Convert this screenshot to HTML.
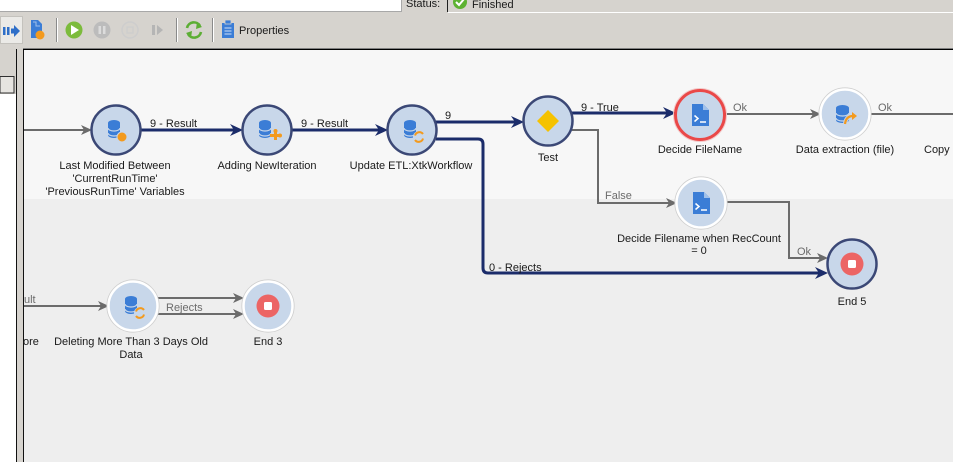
<!DOCTYPE html>
<html><head><meta charset="utf-8"><style>
html,body{margin:0;padding:0;width:953px;height:462px;overflow:hidden;background:#d6d3ce}
svg{display:block}
text{font-family:"Liberation Sans",Arial,sans-serif;font-size:11px;fill:#1a1a1a}
.g{fill:#6b6b6b}
.c{text-anchor:middle}
.nv{stroke:#1b2c6a;stroke-width:3;fill:none}
.gr{stroke:#6b6b6b;stroke-width:2;fill:none}
.ah{fill:#1b2c6a}
.ag{fill:#6b6b6b}
.nd{fill:#c8d7ea;stroke:#3b4876;stroke-width:2.5}
.nw{fill:#c8d7ea;stroke:#ffffff;stroke-width:2.5}
.sh{fill:none;stroke:#cfcfcf;stroke-width:1.2}
.db{fill:#3b7dd6}
.dl{fill:none;stroke:#c8d7ea;stroke-width:1.2}
</style></head><body>
<svg width="953" height="462" viewBox="0 0 953 462" xmlns="http://www.w3.org/2000/svg">
<rect width="953" height="462" fill="#d6d3ce"/>
<!-- top strip -->
<rect x="0" y="0" width="401" height="11" fill="#ffffff"/>
<line x1="0" y1="11.5" x2="402" y2="11.5" stroke="#a8a8a8"/>
<line x1="401.5" y1="0" x2="401.5" y2="12" stroke="#a8a8a8"/>
<text x="406" y="7">Status:</text>
<line x1="447.5" y1="0" x2="447.5" y2="12" stroke="#202020"/>
<line x1="448" y1="12.5" x2="953" y2="12.5" stroke="#ffffff"/>
<circle cx="460" cy="2" r="7" fill="#5db232"/>
<path d="M456 2 l3 3 l5 -6" stroke="#fff" stroke-width="2" fill="none"/>
<text x="472" y="8">Finished</text>

<!-- toolbar -->
<rect x="0.5" y="16.5" width="22" height="27" fill="#ebeae7" stroke="#c4c2bd"/>
<rect x="3" y="27" width="2.5" height="8" fill="#2f6fc8"/>
<rect x="7" y="27" width="2.5" height="8" fill="#2f6fc8"/>
<rect x="11" y="28.5" width="4" height="5" fill="#2f6fc8"/>
<polygon points="14,25 20,31 14,37" fill="#2f6fc8"/>
<path d="M31 20 H38 L42 24 V38 H31 Z" fill="#3b7dd6"/>
<path d="M33 22 H36 V26 H40" fill="none" stroke="#9fc0ea" stroke-width="1"/>
<circle cx="40" cy="35" r="4.5" fill="#f39a1e"/>
<line x1="56.5" y1="18" x2="56.5" y2="42" stroke="#8a8a8a"/>
<line x1="57.5" y1="18" x2="57.5" y2="42" stroke="#ffffff"/>
<circle cx="74" cy="30" r="8.5" fill="#7cbb3c"/>
<polygon points="71,25 71,35 79,30" fill="#ffffff"/>
<circle cx="102" cy="30" r="8.5" fill="#bcbcbc"/>
<rect x="98.5" y="26" width="2.5" height="8" fill="#dcdcdc"/>
<rect x="103" y="26" width="2.5" height="8" fill="#dcdcdc"/>
<circle cx="130" cy="30" r="8" fill="none" stroke="#cdcdcd" stroke-width="1.5"/>
<rect x="127" y="27" width="6" height="6" fill="none" stroke="#cdcdcd" stroke-width="1.2"/>
<rect x="152" y="25" width="3" height="10" fill="#b5b5b5"/>
<polygon points="157,25 157,35 163,30" fill="#b5b5b5"/>
<line x1="176.5" y1="18" x2="176.5" y2="42" stroke="#8a8a8a"/>
<line x1="177.5" y1="18" x2="177.5" y2="42" stroke="#ffffff"/>
<path d="M187 28 A7 7 0 0 1 200 26" fill="none" stroke="#5cae34" stroke-width="2.6"/>
<polygon points="197,22 202,27 196,29" fill="#5cae34"/>
<path d="M201 32 A7 7 0 0 1 188 34" fill="none" stroke="#5cae34" stroke-width="2.6"/>
<polygon points="191,38 186,33 192,31" fill="#5cae34"/>
<line x1="212.5" y1="18" x2="212.5" y2="42" stroke="#8a8a8a"/>
<line x1="213.5" y1="18" x2="213.5" y2="42" stroke="#ffffff"/>
<rect x="222" y="23" width="12" height="15" fill="#3b7dd6"/>
<rect x="225" y="20" width="6" height="4" fill="#3b7dd6" stroke="#d6d3ce" stroke-width="0.8"/>
<line x1="224.5" y1="28" x2="231.5" y2="28" stroke="#cfe0f5"/>
<line x1="224.5" y1="31" x2="231.5" y2="31" stroke="#cfe0f5"/>
<line x1="224.5" y1="34" x2="231.5" y2="34" stroke="#cfe0f5"/>
<text x="239" y="34">Properties</text>

<!-- left panel -->
<rect x="0" y="94" width="16" height="368" fill="#ffffff"/>
<rect x="0" y="76.5" width="14" height="16.5" fill="#e6e4e0" stroke="#303030" stroke-width="1"/>
<line x1="16.5" y1="49" x2="16.5" y2="462" stroke="#111"/>
<line x1="23.5" y1="48" x2="23.5" y2="462" stroke="#111"/>

<!-- canvas -->
<rect x="24" y="50" width="929" height="150" fill="#f7f7f7"/>
<rect x="24" y="199" width="929" height="263" fill="#eeeeee"/>
<line x1="23" y1="48.5" x2="953" y2="48.5" stroke="#808080"/>
<line x1="23" y1="49.5" x2="953" y2="49.5" stroke="#000000"/>

<!-- connectors -->
<path class="gr" d="M24 130 H86"/><polygon class="ag" points="92,130 81,125 84,130 81,135"/>
<path class="nv" d="M140 130 H236"/><polygon class="ah" points="243,130 230,124 234,130 230,136"/>
<path class="nv" d="M291 130 H381"/><polygon class="ah" points="388,130 375,124 379,130 375,136"/>
<path class="nv" d="M436 122 H517"/><polygon class="ah" points="524,122 511,116 515,122 511,128"/>
<path class="nv" d="M436 139 H478 Q483 139 483 144 V268 Q483 273 488 273 H821"/><polygon class="ah" points="828,273 815,267 819,273 815,279"/>
<path class="nv" d="M572 113 H669"/><polygon class="ah" points="676,113 663,107 667,113 663,119"/>
<path class="gr" d="M572 130 H598 V203 H671"/><polygon class="ag" points="677,203 666,198 669,203 666,208"/>
<path class="gr" d="M725 114 H815"/><polygon class="ag" points="821,114 810,109 813,114 810,119"/>
<path class="gr" d="M869 114 H953"/>
<path class="gr" d="M725 202 H789 V258 H822"/><polygon class="ag" points="828,258 817,253 820,258 817,263"/>
<path class="gr" d="M24 306 H102"/><polygon class="ag" points="109,306 98,301 101,306 98,311"/>
<path class="gr" d="M157 298 H237"/><polygon class="ag" points="244,298 233,293 236,298 233,303"/>
<path class="gr" d="M157 314 H237"/><polygon class="ag" points="244,314 233,309 236,314 233,319"/>

<!-- connector labels -->
<text x="150" y="127">9 - Result</text>
<text x="301" y="127">9 - Result</text>
<text x="445" y="119">9</text>
<text x="581" y="111">9 - True</text>
<text class="g" x="733" y="111">Ok</text>
<text class="g" x="878" y="111">Ok</text>
<text class="g" x="605" y="199">False</text>
<text class="g" x="797" y="255">Ok</text>
<text x="489" y="271">0 - Rejects</text>
<text class="g" x="166" y="311">Rejects</text>
<text class="g" x="24" y="303">ult</text>

<!-- N1 -->
<circle class="nd" cx="116" cy="130" r="24.5"/>
<path class="db" d="M108 123 a6 3 0 0 1 12 0 v12 a6 3 0 0 1 -12 0 z"/>
<path class="dl" d="M108 128 a6 3 0 0 0 12 0"/><path class="dl" d="M108 133 a6 3 0 0 0 12 0"/>
<circle cx="122" cy="137" r="5" fill="#f39a1e" stroke="#c8d7ea" stroke-width="1"/>
<!-- N2 -->
<circle class="nd" cx="267" cy="130" r="24.5"/>
<path class="db" d="M259 123 a6 3 0 0 1 12 0 v12 a6 3 0 0 1 -12 0 z"/>
<path class="dl" d="M259 128 a6 3 0 0 0 12 0"/><path class="dl" d="M259 133 a6 3 0 0 0 12 0"/>
<path d="M270 134 h4 v-3 h3 v3 h3 v3 h-3 v3 h-3 v-3 h-4 z" fill="#f39a1e"/>
<circle cx="275.5" cy="131" r="2" fill="#f39a1e"/><circle cx="280" cy="135.5" r="2" fill="#f39a1e"/>
<!-- N3 -->
<circle class="nd" cx="412" cy="130" r="24.5"/>
<path class="db" d="M404 123 a6 3 0 0 1 12 0 v12 a6 3 0 0 1 -12 0 z"/>
<path class="dl" d="M404 128 a6 3 0 0 0 12 0"/><path class="dl" d="M404 133 a6 3 0 0 0 12 0"/>
<circle cx="419" cy="137" r="6" fill="#c8d7ea"/>
<path d="M415 135.5 A4.5 4.5 0 0 1 423 134" fill="none" stroke="#f39a1e" stroke-width="2"/>
<path d="M423 138.5 A4.5 4.5 0 0 1 415 140" fill="none" stroke="#f39a1e" stroke-width="2"/>
<!-- N4 Test -->
<circle class="nd" cx="548" cy="121" r="24.5"/>
<polygon points="548,110 559,121 548,132 537,121" fill="#f5c200"/>
<!-- N5 Decide FileName -->
<circle cx="700" cy="115" r="26.5" fill="none" stroke="#f2c9c9" stroke-width="1"/>
<circle cx="700" cy="115" r="24.5" fill="#c8d7ea" stroke="#ea4848" stroke-width="3"/>
<path d="M692 104 H703 L709 110 V126 H692 Z" fill="#3b7dd6"/>
<polygon points="703,104 709,110 703,110" fill="#9fc0ea"/>
<path d="M694.5 115.5 l3.5 3 l-3.5 3" fill="none" stroke="#fff" stroke-width="1.5"/>
<line x1="700" y1="122" x2="706" y2="122" stroke="#fff" stroke-width="1.5"/>
<!-- N6 Data extraction -->
<circle class="sh" cx="845" cy="114" r="26"/>
<circle class="nw" cx="845" cy="114" r="24.5"/>
<path class="db" d="M836 108 a6.5 3 0 0 1 13 0 v12 a6.5 3 0 0 1 -13 0 z"/>
<path class="dl" d="M836 113 a6.5 3 0 0 0 13 0"/><path class="dl" d="M836 118 a6.5 3 0 0 0 13 0"/>
<path d="M845 124 Q846 116 853 116" fill="none" stroke="#c8d7ea" stroke-width="4"/>
<path d="M845 124 Q846 116 853 116" fill="none" stroke="#f39a1e" stroke-width="2.2"/>
<polygon points="852,112 857,116 852,120" fill="#f39a1e"/>
<!-- N7 -->
<circle class="sh" cx="701" cy="203" r="26"/>
<circle class="nw" cx="701" cy="203" r="24.5"/>
<path d="M693 192 H704 L710 198 V214 H693 Z" fill="#3b7dd6"/>
<polygon points="704,192 710,198 704,198" fill="#9fc0ea"/>
<path d="M695.5 203.5 l3.5 3 l-3.5 3" fill="none" stroke="#fff" stroke-width="1.5"/>
<line x1="701" y1="210" x2="707" y2="210" stroke="#fff" stroke-width="1.5"/>
<!-- N8 End 5 -->
<circle class="nd" cx="852" cy="264" r="24.5"/>
<circle cx="852" cy="264" r="11.5" fill="#ec6565"/>
<rect x="848" y="260" width="8" height="8" rx="1.5" fill="#ffffff"/>
<!-- N9 -->
<circle class="sh" cx="133" cy="306" r="26"/>
<circle class="nw" cx="133" cy="306" r="24.5"/>
<path class="db" d="M125 299 a6 3 0 0 1 12 0 v12 a6 3 0 0 1 -12 0 z"/>
<path class="dl" d="M125 304 a6 3 0 0 0 12 0"/><path class="dl" d="M125 309 a6 3 0 0 0 12 0"/>
<circle cx="140" cy="313" r="6" fill="#c8d7ea"/>
<path d="M136 311.5 A4.5 4.5 0 0 1 144 310" fill="none" stroke="#f39a1e" stroke-width="2"/>
<path d="M144 314.5 A4.5 4.5 0 0 1 136 316" fill="none" stroke="#f39a1e" stroke-width="2"/>
<!-- N10 End 3 -->
<circle class="sh" cx="268" cy="306" r="26"/>
<circle class="nw" cx="268" cy="306" r="24.5"/>
<circle cx="268" cy="306" r="11.5" fill="#ec6565"/>
<rect x="264" y="302" width="8" height="8" rx="1.5" fill="#ffffff"/>

<!-- node labels -->
<text class="c" x="115" y="169">Last Modified Between</text>
<text class="c" x="115" y="182">'CurrentRunTime'</text>
<text class="c" x="115" y="195">'PreviousRunTime' Variables</text>
<text class="c" x="267" y="169">Adding NewIteration</text>
<text class="c" x="411" y="169">Update ETL:XtkWorkflow</text>
<text class="c" x="548" y="161">Test</text>
<text class="c" x="700" y="153">Decide FileName</text>
<text class="c" x="845" y="153">Data extraction (file)</text>
<text x="924" y="153">Copy</text>
<text class="c" x="699" y="242">Decide Filename when RecCount</text>
<text class="c" x="699" y="254">= 0</text>
<text class="c" x="852" y="305">End 5</text>
<text x="23" y="345">ore</text>
<text class="c" x="131" y="345">Deleting More Than 3 Days Old</text>
<text class="c" x="131" y="358">Data</text>
<text class="c" x="268" y="345">End 3</text>
</svg>
</body></html>
